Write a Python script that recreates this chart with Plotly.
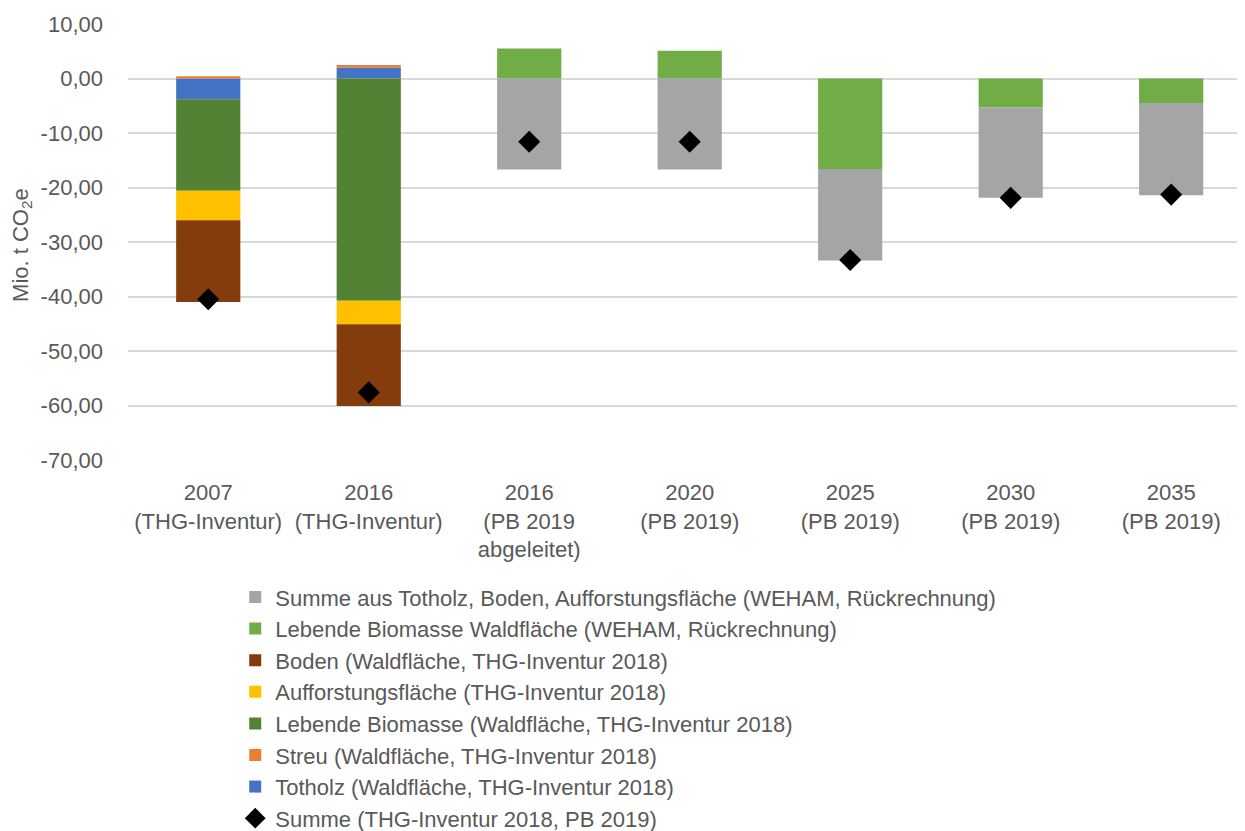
import plotly.graph_objects as go

categories = [
    "2007<br>(THG-Inventur)",
    "2016<br>(THG-Inventur)",
    "2016<br>(PB 2019<br>abgeleitet)",
    "2020<br>(PB 2019)",
    "2025<br>(PB 2019)",
    "2030<br>(PB 2019)",
    "2035<br>(PB 2019)",
]

totholz = [-3.8, 2.0, None, None, None, None, None]
streu = [0.4, 0.5, None, None, None, None, None]
lebende_biomasse = [-16.8, -40.8, None, None, None, None, None]
aufforstung = [-5.4, -4.3, None, None, None, None, None]
boden = [-15.0, -15.0, None, None, None, None, None]
lebende_biomasse_weham = [None, None, 5.5, 5.1, -16.6, -5.3, -4.5]
summe_weham = [None, None, -16.7, -16.7, -16.8, -16.6, -16.9]
summe = [-40.5, -57.6, -11.6, -11.6, -33.3, -21.9, -21.3]

ytick_vals = [10, 0, -10, -20, -30, -40, -50, -60, -70]
ytick_text = ["10,00", "0,00", "-10,00", "-20,00", "-30,00", "-40,00", "-50,00", "-60,00", "-70,00"]

FONT = "Liberation Sans"
TXT = "#595959"

bar_series = [
    ("Totholz (Waldfläche, THG-Inventur 2018)", totholz, "#4472C4", 7),
    ("Streu (Waldfläche, THG-Inventur 2018)", streu, "#ED7D31", 6),
    ("Lebende Biomasse (Waldfläche, THG-Inventur 2018)", lebende_biomasse, "#548235", 5),
    ("Aufforstungsfläche (THG-Inventur 2018)", aufforstung, "#FFC000", 4),
    ("Boden (Waldfläche, THG-Inventur 2018)", boden, "#843C0C", 3),
    ("Lebende Biomasse Waldfläche (WEHAM, Rückrechnung)", lebende_biomasse_weham, "#70AD47", 2),
    ("Summe aus Totholz, Boden, Aufforstungsfläche (WEHAM, Rückrechnung)", summe_weham, "#A5A5A5", 1),
]

fig = go.Figure()
for name, vals, color, rank in bar_series:
    fig.add_trace(go.Bar(
        x=categories, y=vals, name=name, legendrank=rank,
        marker=dict(color=color, line=dict(width=0)),
    ))

fig.add_trace(go.Scatter(
    x=categories, y=summe, name="Summe (THG-Inventur 2018, PB 2019)",
    mode="markers", legendrank=8,
    marker=dict(symbol="diamond", size=17, color="black"),
))

fig.update_layout(
    width=1237, height=823,
    barmode="relative", bargap=0.6,
    plot_bgcolor="white", paper_bgcolor="white",
    margin=dict(l=120, r=0, t=16, b=371, autoexpand=False),
    font=dict(family=FONT, size=22, color=TXT),
    legend=dict(
        orientation="v", x=0.096, xanchor="left", y=-0.2665, yanchor="top",
        font=dict(family=FONT, size=22, color=TXT),
        itemwidth=30, bgcolor="rgba(0,0,0,0)",
    ),
    xaxis=dict(
        type="category", range=[-0.5, 6.46], automargin=False,
        tickfont=dict(family=FONT, size=22, color=TXT),
        showgrid=False, ticks="", showline=False, ticklabelstandoff=17,
    ),
    yaxis=dict(
        range=[-70, 10], tickvals=ytick_vals, ticktext=ytick_text, automargin=False,
        tickfont=dict(family=FONT, size=22, color=TXT),
        showgrid=True, gridcolor="#D9D9D9", gridwidth=1.5,
        zeroline=True, zerolinecolor="#D9D9D9", zerolinewidth=1.5,
        ticks="", showline=False, ticklabelstandoff=24,
    ),
    annotations=[dict(
        text="Mio. t CO<sub>2</sub>e", xref="paper", yref="paper",
        x=-0.095, y=0.493, xanchor="center", yanchor="middle",
        textangle=-90, showarrow=False,
        font=dict(family=FONT, size=22, color=TXT),
    )],
)

fig.write_html("out.html")
